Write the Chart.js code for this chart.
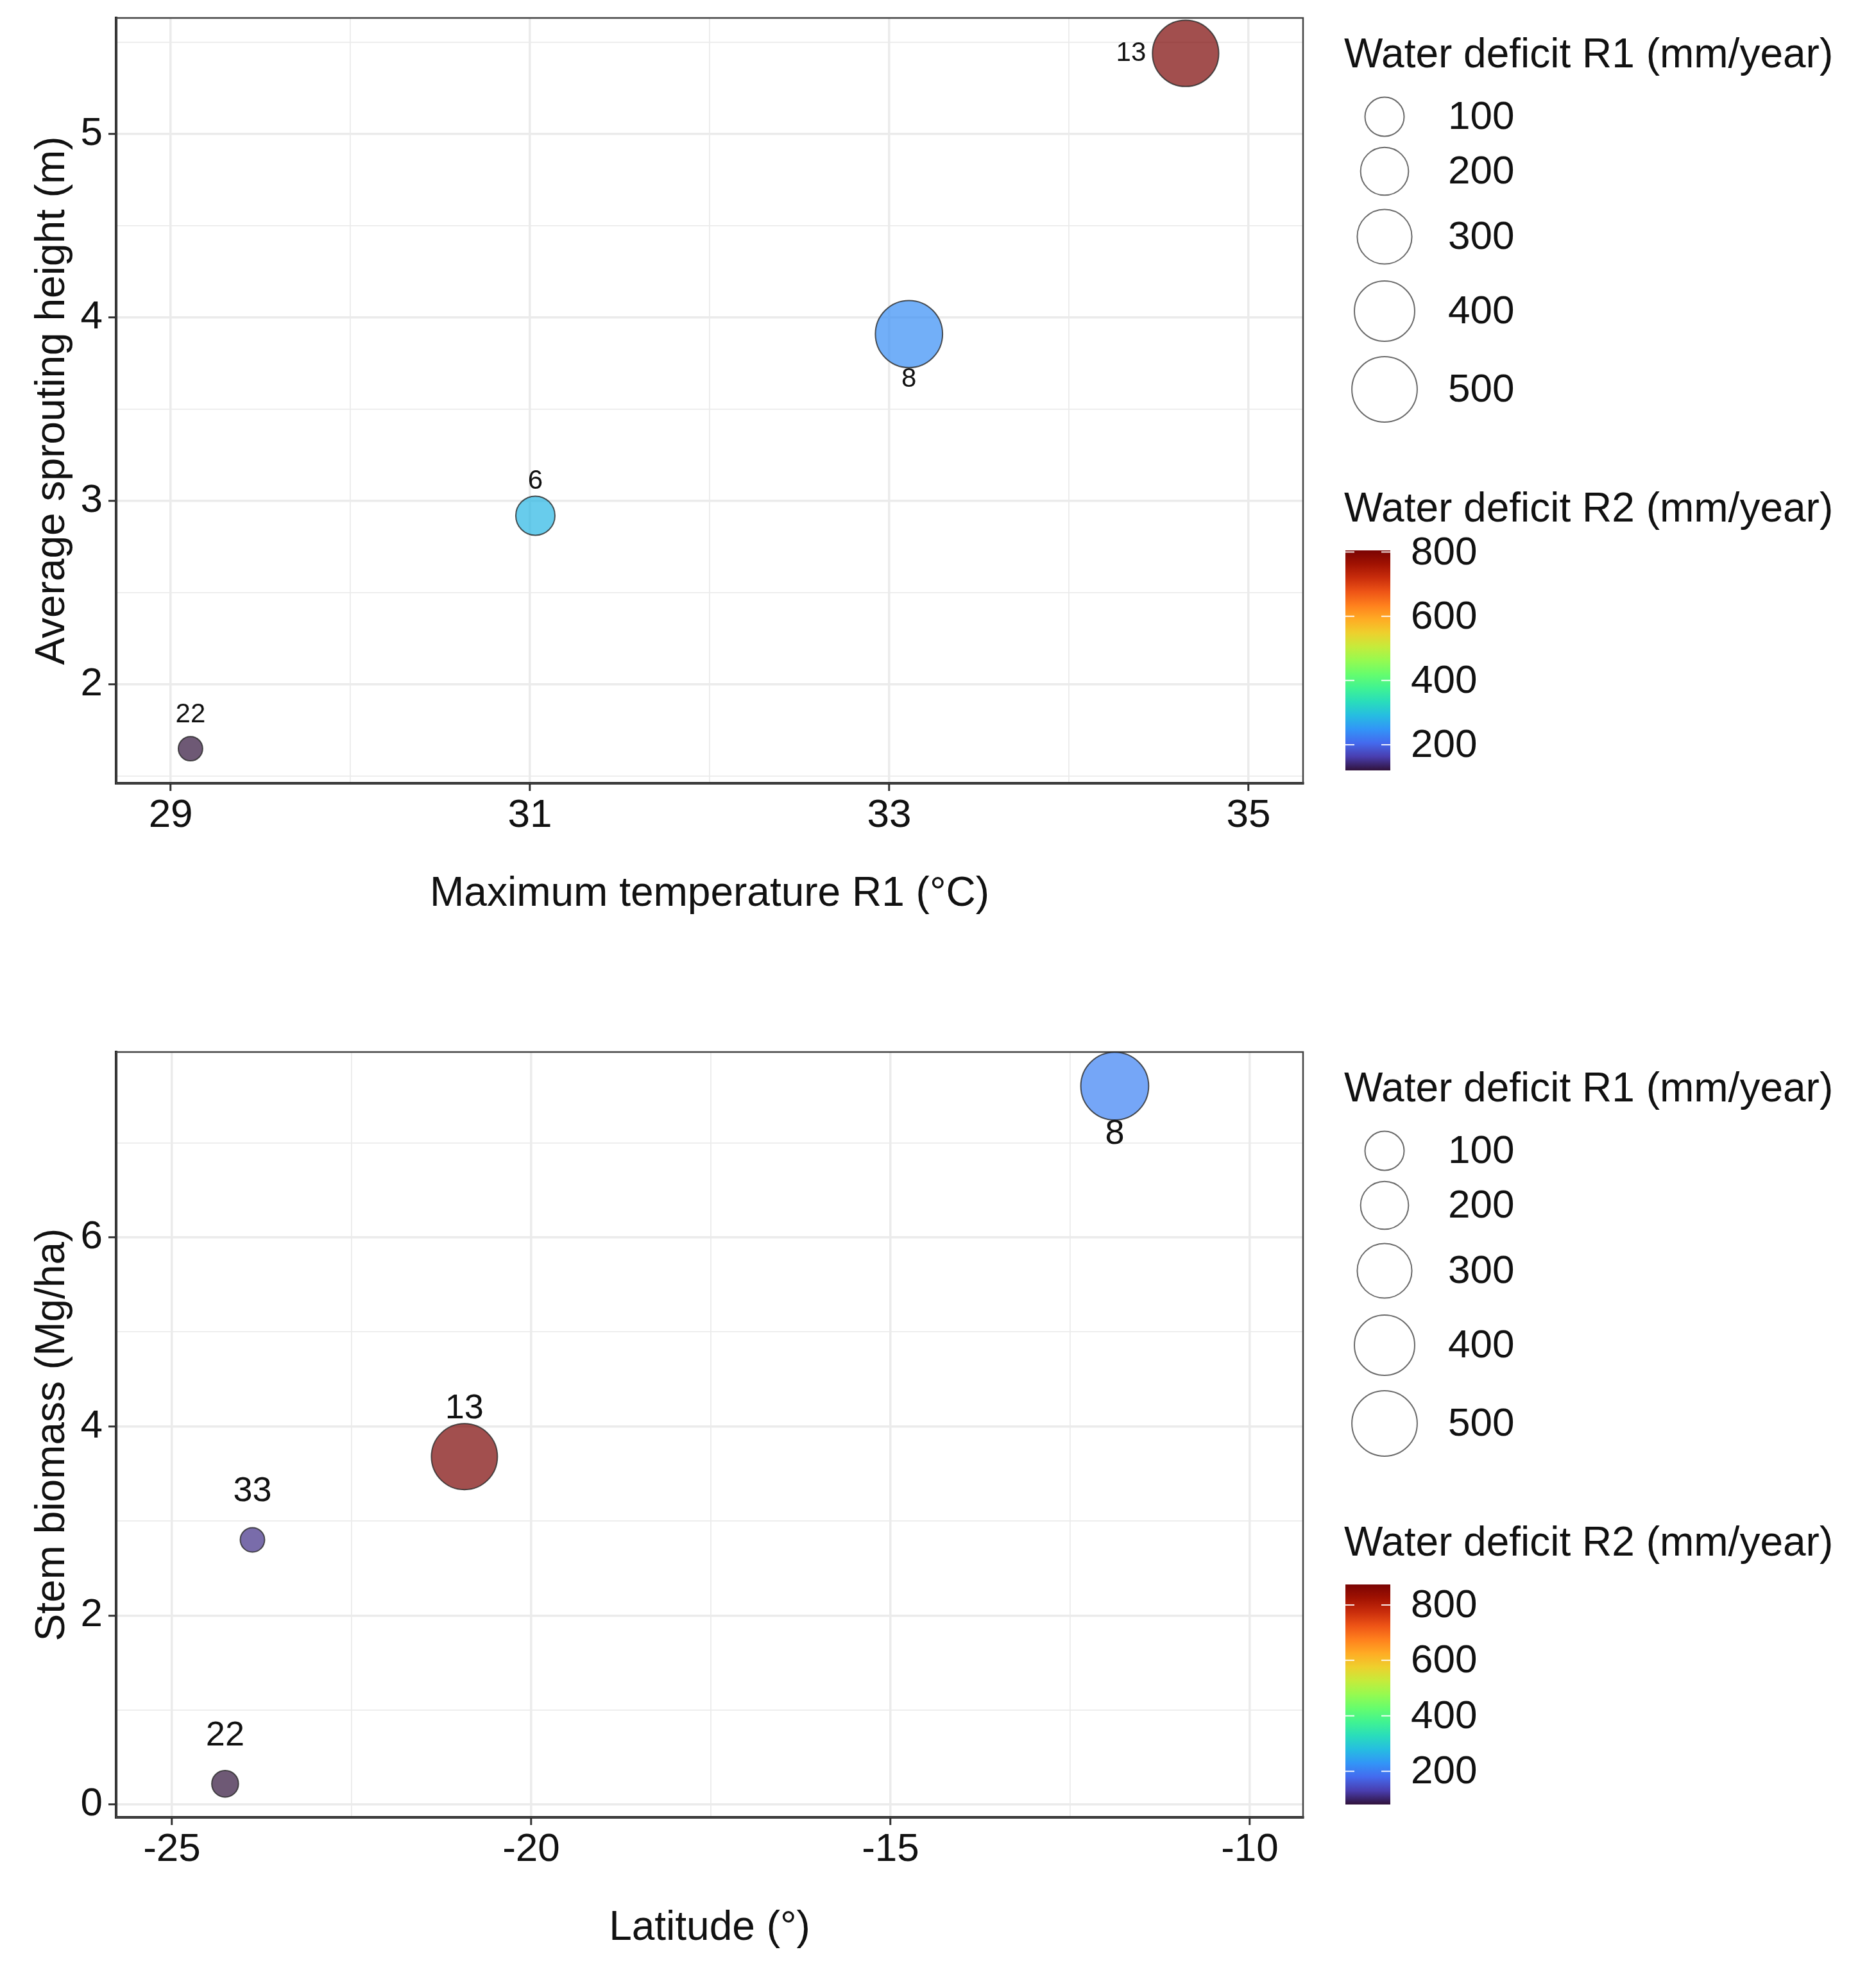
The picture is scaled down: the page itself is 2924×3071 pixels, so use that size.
<!DOCTYPE html>
<html>
<head>
<meta charset="utf-8">
<script src="https://cdn.jsdelivr.net/npm/chart.js@4.4.1/dist/chart.umd.min.js"></script>
<style>
  html, body { margin: 0; padding: 0; background: #fff; }
  body { width: 2924px; height: 3071px; position: relative; overflow: hidden; }
  canvas { position: absolute; left: 0; }
  #top-chart { top: 0; }
  #bottom-chart { top: 1612px; }
</style>
</head>
<body>
<canvas id="top-chart" width="2924" height="1459"></canvas>
<canvas id="bottom-chart" width="2924" height="1459"></canvas>
<script>
// Values
const topSites = ['22', '6', '8', '13'];
const topMaxTempR1 = [29.11, 31.03, 33.11, 34.65];
const topSproutHeight = [1.65, 2.92, 3.91, 5.44];
const topDeficitR1 = [9, 100, 540, 520];
const topDeficitR2 = [120, 285, 240, 805];

const bottomSites = ['22', '33', '13', '8'];
const bottomLatitude = [-24.26, -23.88, -20.93, -11.88];
const bottomStemBiomass = [0.22, 2.8, 3.68, 7.6];
const bottomDeficitR1 = [17, 9, 515, 555];
const bottomDeficitR2 = [80, 112, 874, 205];

// Tick labels and legend breaks
const topXLabels = [29, 31, 33, 35];
const topYLabels = [2, 3, 4, 5];
const bottomXLabels = [-25, -20, -15, -10];
const bottomYLabels = [0, 2, 4, 6];
const sizeBreaks = [100, 200, 300, 400, 500];
const colorBreaks = [200, 400, 600, 800];

const FONT = "'Liberation Sans', Arial, sans-serif";

// turbo palette, 17 stops
const TURBO = [
    [48, 18, 59], [73, 62, 175], [68, 106, 238], [50, 149, 247], [38, 189, 225],
    [41, 221, 187], [64, 243, 146], [102, 253, 109], [150, 250, 80], [198, 235, 59],
    [238, 208, 45], [255, 171, 36], [255, 128, 29], [238, 84, 22], [201, 45, 12],
    [161, 18, 2], [122, 4, 3]
];

function turbo(t) {
    t = Math.max(0, Math.min(1, t));
    const p = t * (TURBO.length - 1);
    const i = Math.min(Math.floor(p), TURBO.length - 2);
    const f = p - i;
    return TURBO[i].map((c, k) => Math.round(c + (TURBO[i + 1][k] - c) * f));
}

function fillFor(v, lo, hi) {
    const [r, g, b] = turbo((v - lo) / (hi - lo));
    return `rgba(${r},${g},${b},0.7)`;
}

// size scale: radius linear in sqrt(value), same as the legend keys
function sizeRadius(v) {
    return 14 + 1.65 * Math.sqrt(v);
}

const panelBorder = {
    id: 'panelBorder',
    beforeDatasetsDraw(chart) {
        const { ctx, chartArea: a } = chart;
        ctx.save();
        ctx.strokeStyle = '#444';
        ctx.lineWidth = 2.5;
        ctx.strokeRect(a.left, a.top, a.right - a.left, a.bottom - a.top);
        ctx.restore();
    }
};

const pointLabels = {
    id: 'pointLabels',
    afterDatasetsDraw(chart, args, opts) {
        const { ctx } = chart;
        const meta = chart.getDatasetMeta(0);
        ctx.save();
        ctx.font = `${opts.size}px ${FONT}`;
        ctx.fillStyle = '#111';
        ctx.textAlign = 'center';
        ctx.textBaseline = 'middle';
        meta.data.forEach((pt, i) => {
            const [dx, dy] = opts.offsets[i];
            ctx.fillText(opts.labels[i], pt.x + dx, pt.y + dy);
        });
        ctx.restore();
    }
};

const waterLegend = {
    id: 'waterLegend',
    afterDraw(chart, args, opts) {
        const { ctx } = chart;
        ctx.save();
        ctx.fillStyle = '#111';
        ctx.textAlign = 'left';
        ctx.textBaseline = 'middle';
        ctx.font = `64px ${FONT}`;
        ctx.fillText('Water deficit R1 (mm/year)', 2095, 87);
        ctx.fillText('Water deficit R2 (mm/year)', 2095, 795);

        // size keys
        const keyY = [182, 267, 369, 485, 607];
        ctx.font = `62px ${FONT}`;
        sizeBreaks.forEach((v, i) => {
            ctx.beginPath();
            ctx.arc(2158, keyY[i], sizeRadius(v), 0, Math.PI * 2);
            ctx.strokeStyle = '#6a6a6a';
            ctx.lineWidth = 2;
            ctx.stroke();
            ctx.fillText(String(v), 2257, keyY[i] + 2);
        });

        // colour bar
        const x0 = 2097, w = 70, top = 858, bot = 1201;
        const grad = ctx.createLinearGradient(0, bot, 0, top);
        TURBO.forEach((c, i) => grad.addColorStop(i / (TURBO.length - 1), `rgb(${c.join(',')})`));
        ctx.fillStyle = grad;
        ctx.fillRect(x0, top, w, bot - top);
        colorBreaks.forEach(v => {
            const y = bot - (v - opts.min) / (opts.max - opts.min) * (bot - top);
            ctx.strokeStyle = 'rgba(255,255,255,0.9)';
            ctx.lineWidth = 2;
            ctx.beginPath();
            ctx.moveTo(x0, y); ctx.lineTo(x0 + 14, y);
            ctx.moveTo(x0 + w - 14, y); ctx.lineTo(x0 + w, y);
            ctx.stroke();
            ctx.fillStyle = '#111';
            ctx.fillText(String(v), 2199, y + 2);
        });
        ctx.restore();
    }
};

function axisOptions(min, max, step, labels, title, isX) {
    const major = v => labels.some(l => Math.abs(l - v) < 1e-9);
    return {
        type: 'linear',
        position: isX ? 'bottom' : 'left',
        min: min,
        max: max,
        afterFit: scale => {
            // fixed panel geometry, no overflow padding from edge labels
            if (isX) scale.height = 238; else scale.width = 181;
            scale.paddingTop = 0;
            scale.paddingBottom = 0;
            scale.paddingLeft = 0;
            scale.paddingRight = 0;
        },
        ticks: {
            stepSize: step,
            includeBounds: false,
            autoSkip: false,
            maxRotation: 0,
            padding: isX ? 2 : 9,
            color: '#111',
            font: { family: FONT, size: 62 },
            callback: v => major(v) ? String(v) : ''
        },
        grid: {
            color: '#ebebeb',
            lineWidth: ctx => major(ctx.tick.value) ? 3.5 : 1.8,
            drawTicks: true,
            tickLength: 12,
            tickWidth: 3,
            tickColor: ctx => major(ctx.tick.value) ? '#333' : 'rgba(0,0,0,0)'
        },
        border: { display: true, color: '#111', width: 4 },
        title: {
            display: true,
            text: title,
            color: '#111',
            font: { family: FONT, size: 64 },
            padding: isX ? { top: 0, bottom: 26 } : { top: 44, bottom: 0 }
        }
    };
}

function makeChart(id, spec) {
    const r2Min = Math.min(...spec.r2);
    const r2Max = Math.max(...spec.r2);
    const points = spec.xs.map((x, i) => ({ x: x, y: spec.ys[i] }));
    return new Chart(document.getElementById(id), {
        type: 'scatter',
        data: {
            datasets: [{
                data: points,
                clip: false,
                pointRadius: ctx => sizeRadius(spec.r1[ctx.dataIndex]),
                pointBackgroundColor: ctx => fillFor(spec.r2[ctx.dataIndex], r2Min, r2Max),
                pointBorderColor: 'rgba(40,40,40,0.8)',
                pointBorderWidth: 2
            }]
        },
        options: {
            responsive: false,
            animation: false,
            devicePixelRatio: 1,
            events: [],
            layout: {
                autoPadding: false,
                padding: { left: 0, top: 28, right: 893, bottom: 0 }
            },
            scales: {
                x: axisOptions(spec.xMin, spec.xMax, spec.xStep, spec.xLabels, spec.xTitle, true),
                y: axisOptions(spec.yMin, spec.yMax, spec.yStep, spec.yLabels, spec.yTitle, false)
            },
            plugins: {
                legend: { display: false },
                tooltip: { enabled: false },
                pointLabels: { labels: spec.sites, offsets: spec.labelOffsets, size: spec.labelSize },
                waterLegend: { min: r2Min, max: r2Max }
            }
        },
        plugins: [panelBorder, pointLabels, waterLegend]
    });
}

makeChart('top-chart', {
    sites: topSites, xs: topMaxTempR1, ys: topSproutHeight, r1: topDeficitR1, r2: topDeficitR2,
    xMin: 28.696, xMax: 35.304, xStep: 1, xLabels: topXLabels,
    yMin: 1.4615, yMax: 5.633, yStep: 0.5, yLabels: topYLabels,
    xTitle: 'Maximum temperature R1 (\u00b0C)',
    yTitle: 'Average sprouting height (m)',
    labelSize: 42,
    labelOffsets: [[0, -53], [0, -53], [0, 71], [-85, 0]]
});

makeChart('bottom-chart', {
    sites: bottomSites, xs: bottomLatitude, ys: bottomStemBiomass, r1: bottomDeficitR1, r2: bottomDeficitR2,
    xMin: -25.777, xMax: -9.259, xStep: 2.5, xLabels: bottomXLabels,
    yMin: -0.135, yMax: 7.96, yStep: 1, yLabels: bottomYLabels,
    xTitle: 'Latitude (\u00b0)',
    yTitle: 'Stem biomass (Mg/ha)',
    labelSize: 54,
    labelOffsets: [[0, -75], [0, -75], [0, -75], [0, 75]]
});
</script>
</body>
</html>
